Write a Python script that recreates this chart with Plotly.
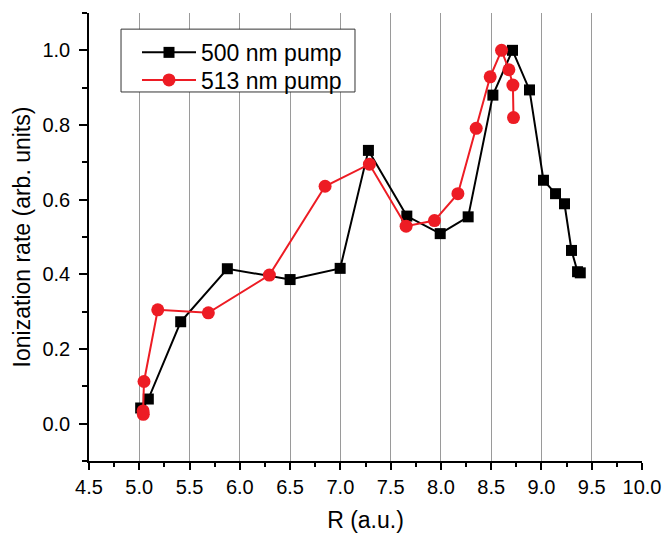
import plotly.graph_objects as go

# 500 nm pump (black squares)
r_500 = [5.014, 5.090, 5.412, 5.876, 6.500, 6.998, 7.279, 7.661, 7.993, 8.271,
         8.517, 8.712, 8.881, 9.020, 9.140, 9.229, 9.299, 9.359, 9.386]
rate_500 = [0.042, 0.066, 0.273, 0.415, 0.386, 0.416, 0.732, 0.556, 0.509, 0.554,
            0.880, 1.000, 0.894, 0.652, 0.616, 0.589, 0.464, 0.407, 0.404]

# 513 nm pump (red circles)
r_513 = [5.040, 5.038, 5.047, 5.184, 5.687, 6.294, 6.848, 7.289, 7.654, 7.936,
         8.169, 8.351, 8.490, 8.603, 8.676, 8.716, 8.722]
rate_513 = [0.025, 0.034, 0.113, 0.305, 0.297, 0.398, 0.636, 0.695, 0.529, 0.544,
            0.616, 0.791, 0.929, 1.000, 0.948, 0.907, 0.820]

x_ticks = [4.5, 5.0, 5.5, 6.0, 6.5, 7.0, 7.5, 8.0, 8.5, 9.0, 9.5, 10.0]
y_ticks = [0.0, 0.2, 0.4, 0.6, 0.8, 1.0]
x_range = [4.5, 10.0]
y_range = [-0.1, 1.1]

FONT = "Liberation Sans, Arial, sans-serif"

fig = go.Figure()
fig.add_trace(go.Scatter(
    x=r_500, y=rate_500, mode="lines+markers", name="500 nm pump",
    line=dict(color="black", width=2),
    marker=dict(symbol="square", size=11, color="black"),
    legend="legend",
))
fig.add_trace(go.Scatter(
    x=r_513, y=rate_513, mode="lines+markers", name="513 nm pump",
    line=dict(color="#ED1C24", width=2),
    marker=dict(symbol="circle", size=13, color="#ED1C24"),
    legend="legend2",
))

legend_common = dict(
    xanchor="left", yanchor="middle",
    bgcolor="rgba(0,0,0,0)", borderwidth=0,
    font=dict(size=23, family=FONT),
    itemwidth=54,
)

fig.update_layout(
    width=663, height=533,
    margin=dict(l=89, r=21, t=13, b=72, autoexpand=False),
    paper_bgcolor="white", plot_bgcolor="white",
    font=dict(family=FONT, size=20, color="black"),
    showlegend=True,
    legend=dict(x=0.0868, y=0.912, **legend_common),
    legend2=dict(x=0.0868, y=0.8504, **legend_common),
    shapes=[dict(
        type="rect", xref="paper", yref="paper",
        x0=0.0579, x1=0.481, y0=0.8237, y1=0.964,
        line=dict(color="#333", width=1), fillcolor="white", layer="above",
    )],
    xaxis=dict(
        range=x_range, tickvals=x_ticks,
        ticktext=[f"{v:.1f}" for v in x_ticks],
        ticks="outside", ticklen=7, tickwidth=1.5, tickcolor="black",
        showline=True, linecolor="black", linewidth=1.5,
        showgrid=True, gridcolor="#9a9a9a", gridwidth=1,
        zeroline=False, automargin=False,
        minor=dict(dtick=0.25, tick0=4.5, ticks="outside", ticklen=4,
                   tickwidth=1.5, tickcolor="black", showgrid=False),
        title=dict(text="R (a.u.)", font=dict(size=23), standoff=22),
        tickfont=dict(size=20), ticklabelstandoff=0,
    ),
    yaxis=dict(
        range=y_range, tickvals=y_ticks,
        ticktext=[f"{v:.1f}" for v in y_ticks],
        ticks="outside", ticklen=8, tickwidth=1.5, tickcolor="black",
        showline=True, linecolor="black", linewidth=1.5,
        showgrid=False, zeroline=False, automargin=False,
        minor=dict(dtick=0.1, tick0=0, ticks="outside", ticklen=5,
                   tickwidth=1.5, tickcolor="black", showgrid=False),
        title=dict(text="Ionization rate (arb. units)", font=dict(size=23), standoff=5),
        tickfont=dict(size=20), ticklabelstandoff=5,
    ),
    xaxis2=dict(
        overlaying="x", side="top", anchor="y", range=x_range,
        tickvals=x_ticks, showticklabels=False, automargin=False,
        ticks="inside", ticklen=7, tickwidth=1.5, tickcolor="black",
        showline=True, linecolor="black", linewidth=1.5,
        showgrid=False, zeroline=False,
        minor=dict(dtick=0.25, tick0=4.5, ticks="inside", ticklen=4,
                   tickwidth=1.5, tickcolor="black"),
    ),
    yaxis2=dict(
        overlaying="y", side="right", anchor="x", range=y_range,
        tickvals=y_ticks, showticklabels=False, automargin=False,
        ticks="inside", ticklen=8, tickwidth=1.5, tickcolor="black",
        showline=True, linecolor="black", linewidth=1.5,
        showgrid=False, zeroline=False,
        minor=dict(dtick=0.1, tick0=0, ticks="inside", ticklen=5,
                   tickwidth=1.5, tickcolor="black"),
    ),
)

fig.write_html(
    "out.html",
    config={"displayModeBar": False},
    post_script="document.body.style.margin='0';document.body.style.padding='0';",
)
